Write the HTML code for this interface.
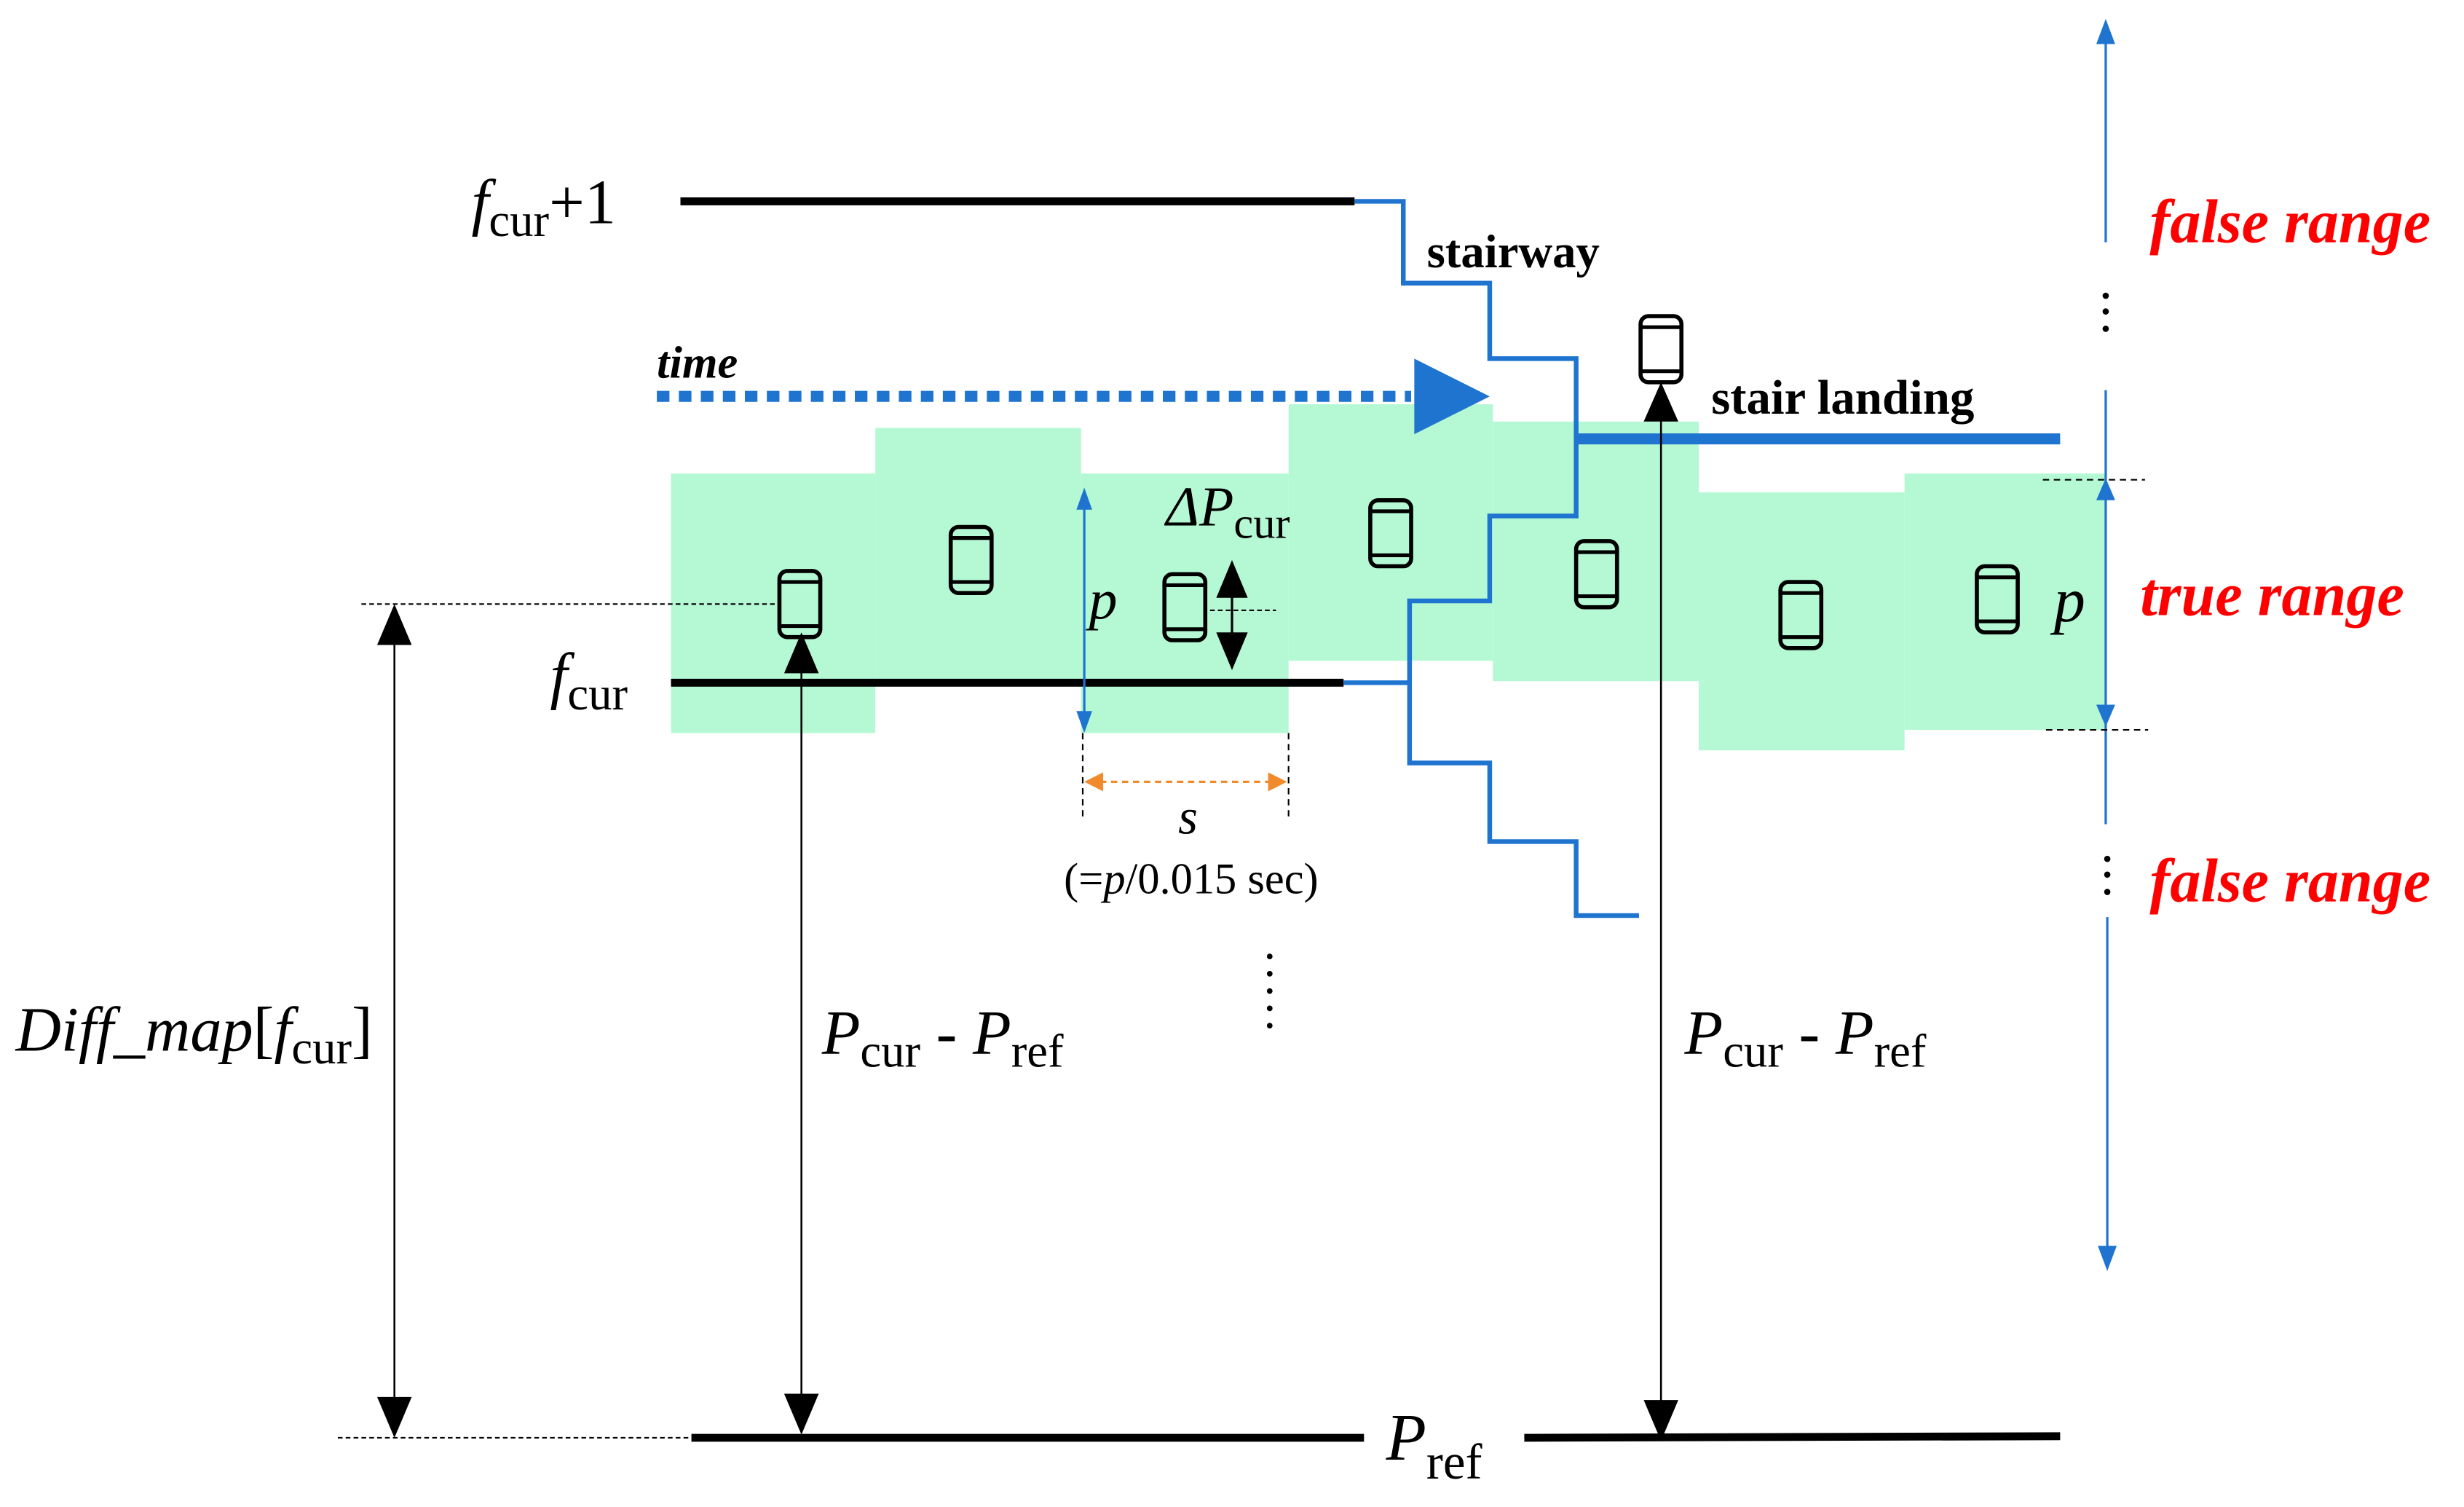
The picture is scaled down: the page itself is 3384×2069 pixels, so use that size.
<!DOCTYPE html>
<html><head><meta charset="utf-8"><style>
html,body{margin:0;padding:0;background:#fff;}
svg{display:block;}
</style></head><body>
<svg width="3384" height="2069" viewBox="0 0 1568 958" preserveAspectRatio="none" xmlns="http://www.w3.org/2000/svg" font-family="'Liberation Serif', 'DejaVu Serif', serif">
<defs>
<g id="ph"><rect x="-13" y="-21" width="26" height="42" rx="5" fill="none" stroke="#000" stroke-width="2.6"/><line x1="-13" y1="-14" x2="13" y2="-14" stroke="#000" stroke-width="2.4"/><line x1="-13" y1="14" x2="13" y2="14" stroke="#000" stroke-width="2.4"/></g>
</defs>
<g fill="#b5f9d4">
<rect x="427" y="301" width="130" height="165"/>
<rect x="557" y="272" width="131" height="162"/>
<rect x="688" y="301" width="132" height="165"/>
<rect x="820" y="257" width="130" height="163"/>
<rect x="950" y="268" width="131" height="165"/>
<rect x="1081" y="313" width="131" height="164"/>
<rect x="1212" y="301" width="128" height="163"/>
</g>
<line x1="433" y1="128" x2="862" y2="128" stroke="#000" stroke-width="5"/>
<line x1="427" y1="434" x2="855" y2="434" stroke="#000" stroke-width="5"/>
<line x1="440" y1="914" x2="868" y2="914" stroke="#000" stroke-width="5"/>
<line x1="970" y1="914" x2="1311" y2="913" stroke="#000" stroke-width="5"/>
<polyline points="862,128 893,128 893,180 948,180 948,228 1003,228 1003,280" fill="none" stroke="#1f74d0" stroke-width="3"/>
<polyline points="1003,278 1003,328 948,328 948,382 897,382 897,485 948,485 948,535 1003,535 1003,582 1043,582" fill="none" stroke="#1f74d0" stroke-width="3"/>
<line x1="855" y1="434" x2="897" y2="434" stroke="#1f74d0" stroke-width="3"/>
<line x1="1003" y1="279" x2="1311" y2="279" stroke="#1f74d0" stroke-width="7"/>
<line x1="418" y1="252" x2="898" y2="252" stroke="#1f74d0" stroke-width="7" stroke-dasharray="8,6"/>
<polygon points="900,228 948,252 900,276" fill="#1f74d0"/>
<text x="418" y="240" font-size="29" font-weight="bold" font-style="italic">time</text>
<text x="908" y="170" font-size="30" font-weight="bold">stairway</text>
<text x="1089" y="263" font-size="31" font-weight="bold">stair landing</text>
<use href="#ph" x="509" y="384"/><use href="#ph" x="618" y="356"/><use href="#ph" x="754" y="386"/>
<use href="#ph" x="885" y="339"/><use href="#ph" x="1016" y="365"/><use href="#ph" x="1146" y="391"/>
<use href="#ph" x="1271" y="381"/>
<rect x="1043" y="201" width="28" height="44" fill="#fff"/><use href="#ph" x="1057" y="222"/>
<line x1="690" y1="318" x2="690" y2="458" stroke="#1f74d0" stroke-width="1.5"/>
<polygon points="690,310 685,324 695,324" fill="#1f74d0"/><polygon points="690,466 685,452 695,452" fill="#1f74d0"/>
<text x="693" y="393" font-size="36" font-style="italic">p</text>
<text x="742" y="334" font-size="36" font-style="italic">ΔP<tspan font-size="28" font-style="normal" dy="8">cur</tspan></text>
<line x1="784" y1="370" x2="784" y2="412" stroke="#000" stroke-width="1.5"/>
<polygon points="784,356 774,380 794,380" fill="#000"/><polygon points="784,426 774,402 794,402" fill="#000"/>
<line x1="770" y1="388" x2="812" y2="388" stroke="#000" stroke-width="1" stroke-dasharray="3,2"/>
<line x1="689" y1="466" x2="689" y2="520" stroke="#000" stroke-width="1" stroke-dasharray="4,3"/>
<line x1="820" y1="466" x2="820" y2="520" stroke="#000" stroke-width="1" stroke-dasharray="4,3"/>
<line x1="700" y1="497" x2="808" y2="497" stroke="#f08a2a" stroke-width="1.5" stroke-dasharray="4,3"/>
<polygon points="690,497 702,491 702,503" fill="#f08a2a"/><polygon points="819,497 807,491 807,503" fill="#f08a2a"/>
<text x="756" y="530" font-size="32" font-style="italic" text-anchor="middle">s</text>
<text x="758" y="568" font-size="28" text-anchor="middle">(=<tspan font-style="italic">p</tspan>/0.015 sec)</text>
<g fill="#000"><circle cx="808" cy="608" r="1.8"/><circle cx="808" cy="619" r="1.8"/><circle cx="808" cy="630" r="1.8"/><circle cx="808" cy="641" r="1.8"/><circle cx="808" cy="652" r="1.8"/></g>
<text x="300" y="142" font-size="40" font-style="italic">f<tspan font-size="30" font-style="normal" dy="8">cur</tspan><tspan font-style="normal" dy="-8">+1</tspan></text>
<text x="350" y="443" font-size="40" font-style="italic">f<tspan font-size="30" font-style="normal" dy="8">cur</tspan></text>
<text x="10" y="668" font-size="40" font-style="italic">Diff_map<tspan font-style="normal">[</tspan>f<tspan font-size="30" font-style="normal" dy="8">cur</tspan><tspan font-style="normal" dy="-8">]</tspan></text>
<line x1="230" y1="384" x2="497" y2="384" stroke="#000" stroke-width="1" stroke-dasharray="3,2"/>
<line x1="215" y1="914" x2="440" y2="914" stroke="#000" stroke-width="1" stroke-dasharray="3,2"/>
<line x1="251" y1="400" x2="251" y2="900" stroke="#000" stroke-width="1.2"/>
<polygon points="251,384 240,410 262,410" fill="#000"/><polygon points="251,914 240,888 262,888" fill="#000"/>
<line x1="510" y1="415" x2="510" y2="900" stroke="#000" stroke-width="1.2"/>
<polygon points="510,402 499,428 521,428" fill="#000"/><polygon points="510,912 499,886 521,886" fill="#000"/>
<text x="523" y="670" font-size="40" font-style="italic">P<tspan font-size="30" font-style="normal" dy="8">cur</tspan><tspan font-style="normal" dy="-8"> - </tspan>P<tspan font-size="30" font-style="normal" dy="8">ref</tspan></text>
<line x1="1057" y1="255" x2="1057" y2="905" stroke="#000" stroke-width="1.2"/>
<polygon points="1057,243 1046,268 1068,268" fill="#000"/><polygon points="1057,916 1046,890 1068,890" fill="#000"/>
<text x="1072" y="670" font-size="40" font-style="italic">P<tspan font-size="30" font-style="normal" dy="8">cur</tspan><tspan font-style="normal" dy="-8"> - </tspan>P<tspan font-size="30" font-style="normal" dy="8">ref</tspan></text>
<text x="882" y="928" font-size="42" font-style="italic">P<tspan font-size="32" font-style="normal" dy="12">ref</tspan></text>
<g stroke="#1f74d0" stroke-width="1.5">
<line x1="1340" y1="22" x2="1340" y2="154"/>
<line x1="1340" y1="248" x2="1340" y2="524"/>
<line x1="1341" y1="583" x2="1341" y2="798"/>
</g>
<polygon points="1340,12 1334,28 1346,28" fill="#1f74d0"/>
<polygon points="1341,808 1335,792 1347,792" fill="#1f74d0"/>
<polygon points="1340,304 1334,318 1346,318" fill="#1f74d0"/>
<polygon points="1340,462 1334,448 1346,448" fill="#1f74d0"/>
<line x1="1300" y1="305" x2="1365" y2="305" stroke="#000" stroke-width="1" stroke-dasharray="4,3"/>
<line x1="1302" y1="464" x2="1367" y2="464" stroke="#000" stroke-width="1" stroke-dasharray="4,3"/>
<g fill="#000"><circle cx="1340" cy="188" r="2"/><circle cx="1340" cy="198" r="2"/><circle cx="1340" cy="209" r="2"/>
<circle cx="1341" cy="546" r="2"/><circle cx="1341" cy="556" r="2"/><circle cx="1341" cy="567" r="2"/></g>
<text x="1307" y="395" font-size="40" font-style="italic">p</text>
<g fill="#f00" font-size="39" font-weight="bold" font-style="italic">
<text x="1368" y="154">false range</text>
<text x="1362" y="391">true range</text>
<text x="1368" y="573">false range</text>
</g>
</svg>
</body></html>
